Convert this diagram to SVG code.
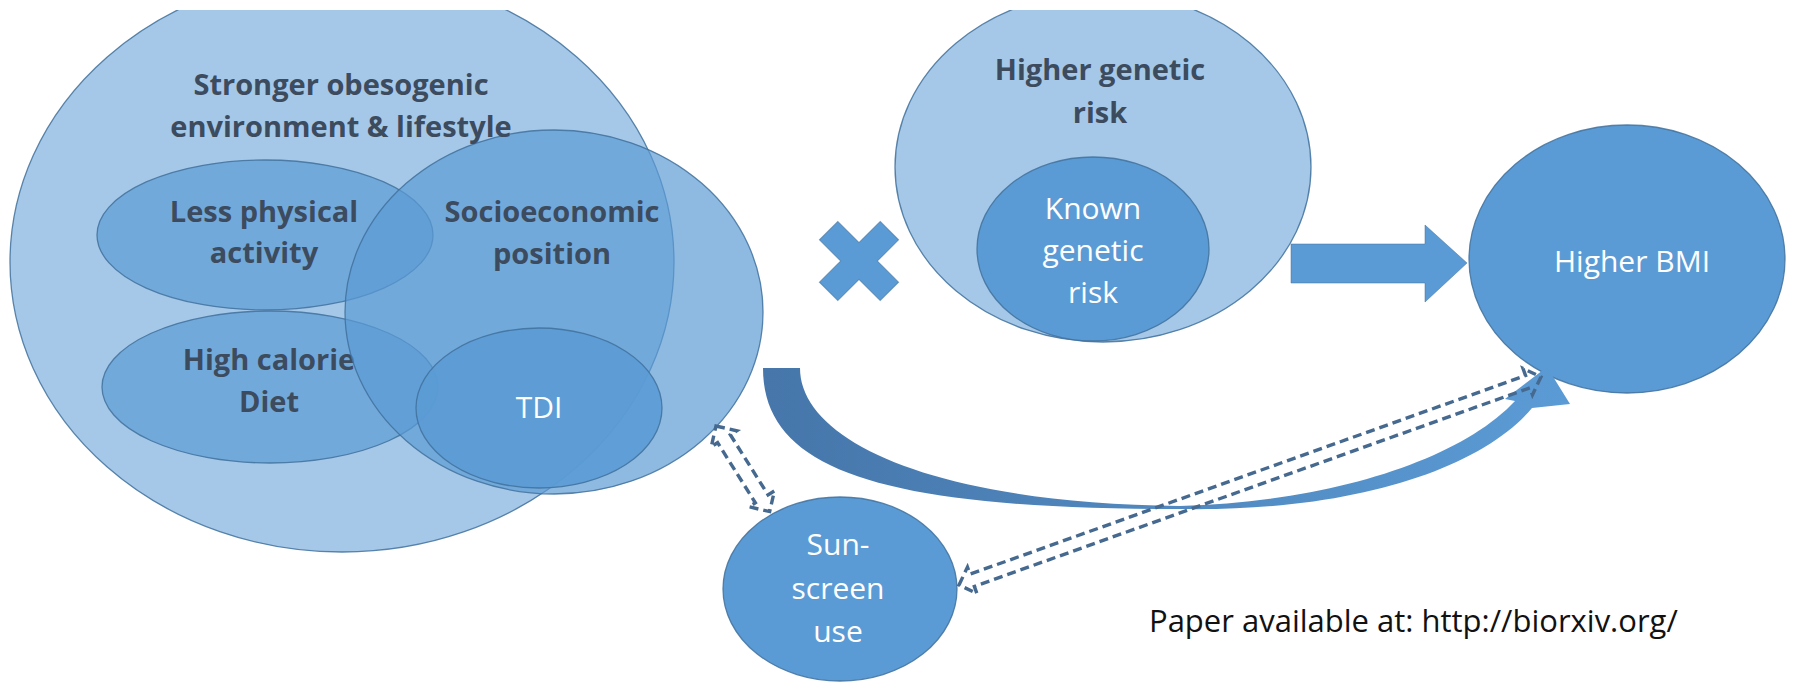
<svg xmlns="http://www.w3.org/2000/svg" width="1802" height="684" viewBox="0 0 1802 684">
<defs>
<clipPath id="topclip"><rect x="0" y="10" width="1802" height="674"/></clipPath>
<linearGradient id="curveGrad" gradientUnits="userSpaceOnUse" x1="763" y1="0" x2="1570" y2="0">
<stop offset="0" stop-color="#4676aa"/>
<stop offset="1" stop-color="#5b9bd5"/>
</linearGradient>
</defs>
<style>
.light{fill:#5b9bd5;fill-opacity:0.55;stroke:#41719c;stroke-width:1.3;stroke-opacity:0.85}
.mid{fill:#5b9bd5;fill-opacity:0.69;stroke:#41719c;stroke-width:1.3;stroke-opacity:0.85}
.solid{fill:#5b9bd5;stroke:#41719c;stroke-width:1.3;stroke-opacity:0.85}
.dark{font-family:"Open Sans","Liberation Sans",sans-serif;font-weight:bold;font-size:29px;fill:#3c4b5e;text-anchor:middle}
.white{font-family:"Open Sans","Liberation Sans",sans-serif;font-size:30px;fill:#ffffff;text-anchor:middle}
.note{font-family:"Open Sans","Liberation Sans",sans-serif;font-size:31px;fill:#111111}
.dash{fill:none;stroke:#46698f;stroke-width:3.4;stroke-dasharray:9 5}
</style>
<rect width="1802" height="684" fill="#ffffff"/>

<g id="n-obesogenic">
<ellipse class="light" cx="342" cy="262" rx="332" ry="290" clip-path="url(#topclip)"/>
</g>
<g id="n-physical">
<ellipse class="mid" cx="265" cy="235" rx="168" ry="75"/>
<text class="dark" x="264" y="222">Less physical</text>
<text class="dark" x="264" y="263">activity</text>
</g>
<g id="n-diet">
<ellipse class="mid" cx="270" cy="387" rx="168" ry="76"/>
<text class="dark" x="269" y="370">High calorie</text>
<text class="dark" x="269" y="412">Diet</text>
</g>
<g id="n-socio">
<ellipse class="mid" cx="554" cy="312" rx="209" ry="182"/>
<text class="dark" x="552" y="222">Socioeconomic</text>
<text class="dark" x="552" y="264">position</text>
</g>
<g id="n-tdi">
<ellipse class="solid" cx="539" cy="408" rx="123" ry="80" fill-opacity="0.92"/>
<text class="white" x="539" y="418">TDI</text>
</g>
<g id="n-obesogenic-label">
<text class="dark" x="341" y="95">Stronger obesogenic</text>
<text class="dark" x="341" y="137">environment &amp; lifestyle</text>
</g>

<g id="n-multiply">
<path transform="translate(859,261) rotate(45)" fill="#5b9bd5" stroke="#41719c" stroke-width="1" stroke-opacity="0.6" d="M-13,-43 H13 V-13 H43 V13 H13 V43 H-13 V13 H-43 V-13 H-13 Z"/>
</g>

<g id="n-genetic">
<ellipse class="light" cx="1103" cy="167" rx="208" ry="175" clip-path="url(#topclip)"/>
<text class="dark" x="1100" y="80">Higher genetic</text>
<text class="dark" x="1100" y="123">risk</text>
</g>
<g id="n-known">
<ellipse class="solid" cx="1093" cy="249" rx="116" ry="92"/>
<text class="white" x="1093" y="219">Known</text>
<text class="white" x="1093" y="261">genetic</text>
<text class="white" x="1093" y="303">risk</text>
</g>

<g id="n-bmi">
<ellipse class="solid" cx="1627" cy="259" rx="158" ry="134"/>
<text class="white" x="1632" y="272">Higher BMI</text>
</g>

<g id="n-sunscreen">
<ellipse class="solid" cx="840" cy="589" rx="117" ry="92"/>
<text class="white" x="838" y="555">Sun-</text>
<text class="white" x="838" y="599">screen</text>
<text class="white" x="838" y="642">use</text>
</g>

<g id="connectors">
<path id="c-straight" fill="#5b9bd5" stroke="#41719c" stroke-width="1" stroke-opacity="0.5" d="M1291,244 H1425 V225 L1467,263 L1425,302 V283 H1291 Z"/>
<path id="c-curved" fill="url(#curveGrad)" d="M763,368 C763,470 880,509 1180,509 C1350,512 1480,470 1532,408 L1570,404 L1547,367 L1505,399 L1515,401 C1460,460 1330,502 1180,506 C930,503 800,440 800,368 Z"/>
<path id="c-short" class="dash" transform="translate(716,426) rotate(57.9)" d="M0,0 L15,-15 L15,-7.5 L86,-7.5 L86,-15 L101,0 L86,15 L86,7.5 L15,7.5 L15,15 Z"/>
<path id="c-long" class="dash" transform="translate(959,585) rotate(-19.67)" d="M0,0 L14,-14 L14,-6.5 L604,-6.5 L604,-14 L618,0 L604,14 L604,6.5 L14,6.5 L14,14 Z"/>
</g>

<text class="note" x="1149" y="632">Paper available at: http://biorxiv.org/</text>
</svg>
